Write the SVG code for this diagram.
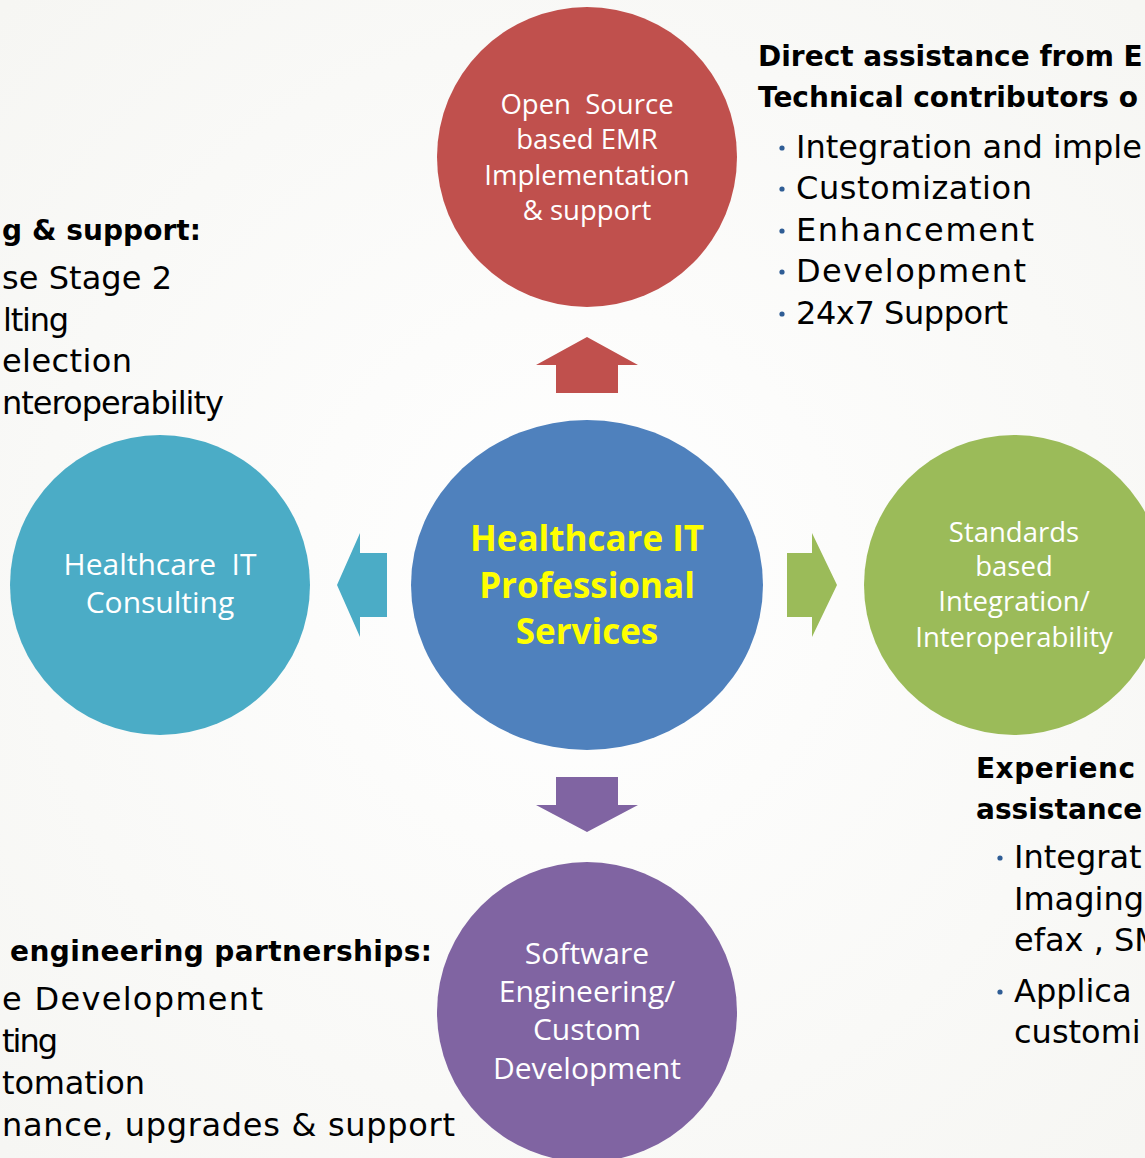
<svg xmlns="http://www.w3.org/2000/svg" width="1145" height="1158" viewBox="0 0 1145 1158">
<defs>
<style>
.lbl{font-family:"Open Sans","Noto Sans",sans-serif;font-size:27.5px;fill:#ffffff;text-anchor:middle}
.big{font-size:30px}
.ctr{font-family:"Open Sans","Noto Sans",sans-serif;font-size:35px;font-weight:bold;fill:#ffff00;text-anchor:middle}
.hd{font-family:"DejaVu Sans",sans-serif;font-size:28px;font-weight:bold;fill:#000000}
.bd{font-family:"DejaVu Sans",sans-serif;font-size:32px;fill:#000000}
.dot{fill:#2f5d95}
</style>
<radialGradient id="bg" cx="0.5" cy="0.5" r="0.7">
<stop offset="0" stop-color="#ffffff"/>
<stop offset="1" stop-color="#f6f6f3"/>
</radialGradient>
</defs>
<rect x="0" y="0" width="1145" height="1158" fill="url(#bg)"/>

<g id="connectors">
<polygon fill="#c0504d" points="587,337 638,365 618,365 618,393 556,393 556,365 536,365"/>
<polygon fill="#4bacc6" points="337,585 360,533 360,553 387,553 387,617 360,617 360,637"/>
<polygon fill="#9bbb59" points="837,585 812,533 812,553 787,553 787,617 812,617 812,637"/>
<polygon fill="#8064a2" points="587,832 638,805 618,805 618,777 556,777 556,805 536,805"/>
</g>

<g id="center">
<ellipse cx="587" cy="585" rx="176" ry="165" fill="#4f81bd"/>
<text class="ctr" x="587" y="551">Healthcare IT</text>
<text class="ctr" x="587" y="598">Professional</text>
<text class="ctr" x="587" y="644">Services</text>
</g>

<g id="emr">
<circle cx="587" cy="157" r="150" fill="#c0504d"/>
<text class="lbl" x="587" y="114" xml:space="preserve">Open  Source</text>
<text class="lbl" x="587" y="149">based EMR</text>
<text class="lbl" x="587" y="185">Implementation</text>
<text class="lbl" x="587" y="220">&amp; support</text>
</g>

<g id="consulting">
<circle cx="160" cy="585" r="150" fill="#4bacc6"/>
<text class="lbl big" x="160" y="575" xml:space="preserve">Healthcare  IT</text>
<text class="lbl big" x="160" y="613">Consulting</text>
</g>

<g id="integration">
<circle cx="1014" cy="585" r="150" fill="#9bbb59"/>
<text class="lbl" x="1014" y="542">Standards</text>
<text class="lbl" x="1014" y="576">based</text>
<text class="lbl" x="1014" y="611">Integration/</text>
<text class="lbl" x="1014" y="647">Interoperability</text>
</g>

<g id="software">
<circle cx="587" cy="1012" r="150" fill="#8064a2"/>
<text class="lbl big" x="587" y="964">Software</text>
<text class="lbl big" x="587" y="1002">Engineering/</text>
<text class="lbl big" x="587" y="1040">Custom</text>
<text class="lbl big" x="587" y="1079">Development</text>
</g>

<g id="text-topright">
<text class="hd" x="758" y="66">Direct assistance from E</text>
<text class="hd" x="758" y="107">Technical contributors o</text>
<circle class="dot" cx="782" cy="148" r="2.6"/>
<text class="bd" x="796" y="158">Integration and imple</text>
<circle class="dot" cx="782" cy="189" r="2.6"/>
<text class="bd" x="796" y="199" textLength="236">Customization</text>
<circle class="dot" cx="782" cy="231" r="2.6"/>
<text class="bd" x="796" y="241" textLength="238">Enhancement</text>
<circle class="dot" cx="782" cy="272" r="2.6"/>
<text class="bd" x="796" y="282" textLength="230">Development</text>
<circle class="dot" cx="782" cy="314" r="2.6"/>
<text class="bd" x="796" y="324" textLength="212">24x7 Support</text>
</g>

<g id="text-left">
<text class="hd" x="2" y="240" textLength="199">g &amp; support:</text>
<text class="bd" x="2" y="289" textLength="170">se Stage 2</text>
<text class="bd" x="3" y="331" textLength="66">lting</text>
<text class="bd" x="2" y="372" textLength="130">election</text>
<text class="bd" x="2" y="414" textLength="222">nteroperability</text>
</g>

<g id="text-bottomleft">
<text class="hd" x="10" y="961" textLength="422">engineering partnerships:</text>
<text class="bd" x="2" y="1010" textLength="261">e Development</text>
<text class="bd" x="2" y="1052" textLength="56">ting</text>
<text class="bd" x="2" y="1094" textLength="143">tomation</text>
<text class="bd" x="2" y="1136" textLength="453">nance, upgrades &amp; support</text>
</g>

<g id="text-bottomright">
<text class="hd" x="976" y="778" textLength="159">Experienc</text>
<text class="hd" x="976" y="819">assistance</text>
<circle class="dot" cx="1000" cy="858" r="2.6"/>
<text class="bd" x="1014" y="868">Integrat</text>
<text class="bd" x="1014" y="910">Imaging</text>
<text class="bd" x="1014" y="951">efax , SM</text>
<circle class="dot" cx="1000" cy="992" r="2.6"/>
<text class="bd" x="1014" y="1002">Applica</text>
<text class="bd" x="1014" y="1043">customi</text>
</g>
</svg>
